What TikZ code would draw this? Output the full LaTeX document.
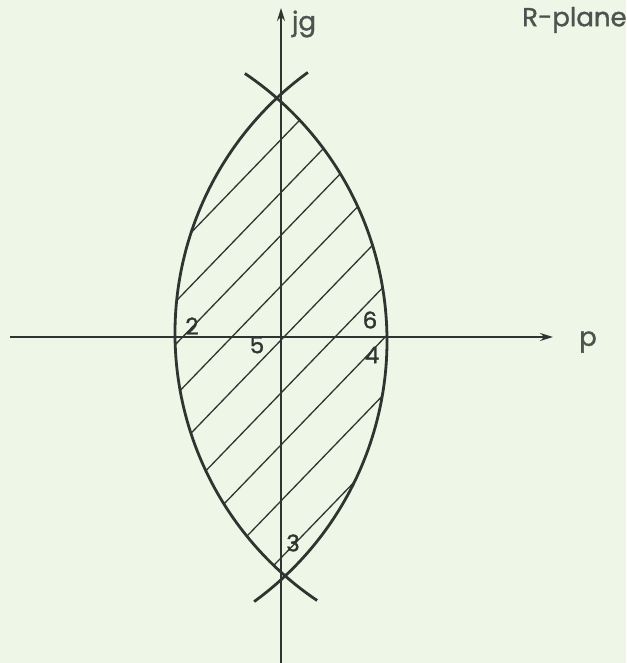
\documentclass[tikz,border=0pt]{standalone}
\usepackage{fontspec}
\newfontfamily\labelfont{Poppins}[FakeBold=1.2]
\usetikzlibrary{arrows.meta,positioning}
\definecolor{paper}{RGB}{237,246,231}
\definecolor{ink}{RGB}{48,52,48}
\tikzset{
  axis/.style={draw=ink, line width=1.8pt, -{Stealth[length=13pt,width=8pt]}},
  lens/.style={draw=ink, line width=2.8pt},
  hatch/.style={draw=ink, line width=1.3pt},
  num/.style={text=ink, font=\labelfont\fontsize{23}{23}\selectfont, inner sep=0pt},
  axlabel/.style={text=ink!85, font=\labelfont\fontsize{26}{26}\selectfont, inner sep=0pt},
}

\begin{document}
\begin{tikzpicture}[x=1pt, y=1pt]

% Page
\fill[paper] (-281,-326) rectangle (345,337);
\useasboundingbox (-281,-326) rectangle (345,337);

% Axes
\coordinate (O) at (0,0);
\coordinate (pstart) at (-271,0);
\coordinate (pend) at (272,0);
\coordinate (gstart) at (0,-326);
\coordinate (gend) at (0,329);
\draw[axis] (pstart) -- (pend);

% Lens and hatching (scan is tilted a little)
\begin{scope}[rotate=1]
\draw[axis] (gstart) -- (gend);
\begin{scope}
\clip (-216.4,0) circle[radius=322.4];
\clip (216.4,0) circle[radius=322.4];
\foreach \b in {194,142,100,50,-3,-55,-106,-161,-217}
  \draw[hatch] (-200,{\b-200}) -- (200,{\b+200});
\end{scope}
\draw[lens] (-31.5,-264.1) arc[start angle=-55, end angle=55, radius=322.4];
\draw[lens] (31.5,264.1) arc[start angle=125, end angle=235, radius=322.4];
\end{scope}

% Axis labels
\node[axlabel] (plabel) at (307,-5) {p};
\node[axlabel] (glabel) at (23,313) {jg};
\node[axlabel, anchor=west] (plane) at (241,317) {R-plane};

% Points
\node[num] (n2) at (-89,11) {2};
\node[num] (n6) at (89,17) {6};
\node[num] (n5) at (-24,-8) {5};
\node[num] (n4) at (91,-18) {4};
\node[num] (n3) at (12,-206) {3};

\end{tikzpicture}
\end{document}
